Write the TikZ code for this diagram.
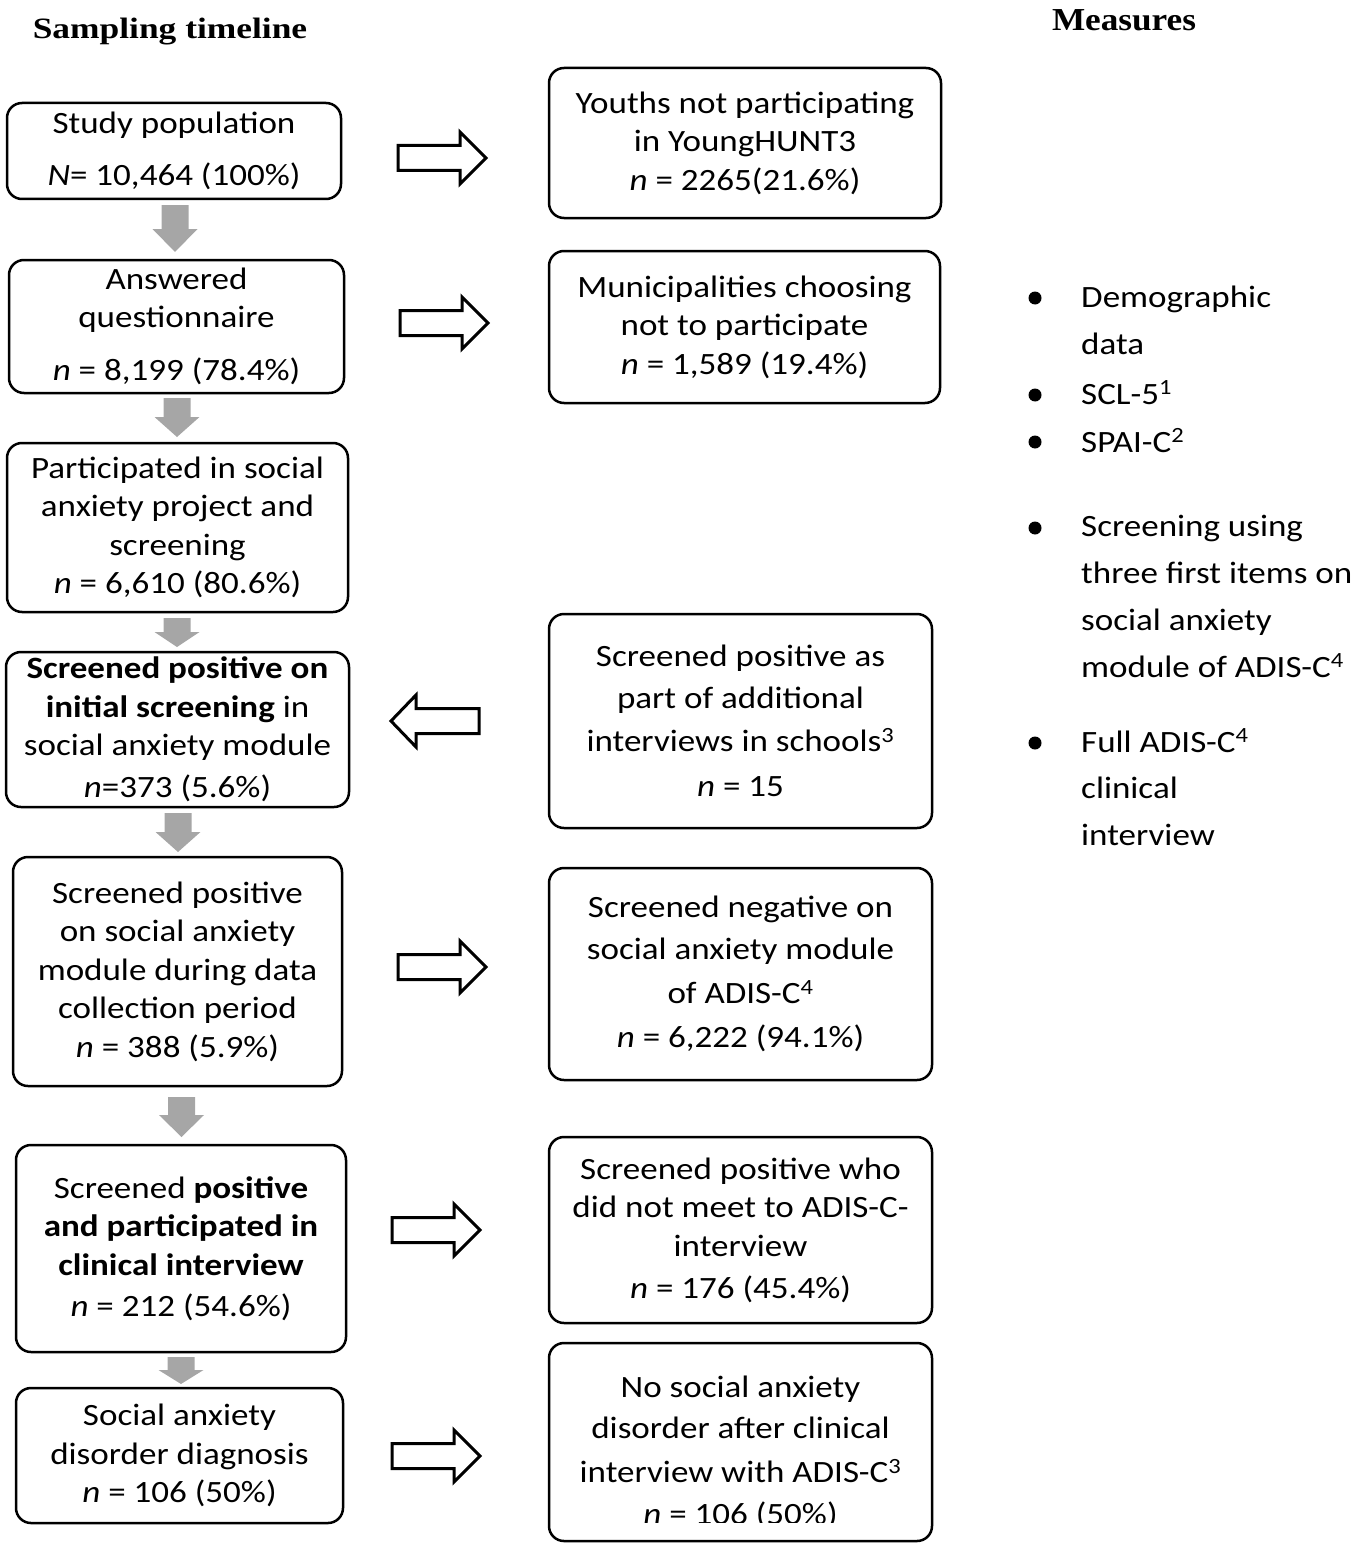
\documentclass[tikz,border=0pt]{standalone}
\usepackage{fontspec}
\setmainfont[FakeStretch=1.13]{Carlito}
\newfontfamily\headfontA[FakeStretch=1.2]{Liberation Serif}
\newfontfamily\headfontB[FakeStretch=1.1]{Liberation Serif}
\newcommand\boxfont{\fontsize{31}{38.5}\selectfont}
\definecolor{arrowgray}{HTML}{A6A6A6}
\begin{document}
\begin{tikzpicture}[x=1pt,y=-1pt,
  box/.style={draw, line width=2.5pt, rounded corners=15pt, align=center, inner sep=0pt, font=\boxfont},
  plain/.style={align=center, inner sep=0pt, font=\boxfont},
  item/.style={anchor=base west, inner sep=0pt, font=\boxfont},
  head/.style={anchor=base, inner sep=0pt},
  bullet/.style={circle, fill=black, inner sep=0pt, minimum size=13pt},
  pics/rblock/.style={code={\draw[line width=3pt, fill=white] (0,-12.5) -- (62,-12.5) -- (62,-26) -- (88,0) -- (62,26) -- (62,12.5) -- (0,12.5) -- cycle;}},
  pics/lblock/.style={code={\draw[line width=3pt, fill=white] (0,-12.5) -- (-63,-12.5) -- (-63,-26) -- (-88,0) -- (-63,26) -- (-63,12.5) -- (0,12.5) -- cycle;}},
  pics/dblock/.style n args={2}{code={\fill[arrowgray] (-13.5,0) -- (-13.5,#1) -- (-22.5,#1) -- (0,#2) -- (22.5,#1) -- (13.5,#1) -- (13.5,0) -- cycle;}}
]
\useasboundingbox (0,0) rectangle (1360,1549);

% headers
\node[head, font=\headfontA\bfseries\fontsize{29.5}{34}\selectfont] (hsamp) at (170,39) {Sampling timeline};
\node[head, font=\headfontB\bfseries\fontsize{32}{36}\selectfont] (hmeas) at (1124,31) {Measures};

% left column
\node[box, minimum width=334pt, minimum height=96pt] (l1) at (174,151)
  {Study population\\[13.5pt]\textit{N}= 10,464 (100\%)};
\node[box, minimum width=335pt, minimum height=133pt] (l2) at (176.5,326.5)
  {Answered\\questionnaire\\[14.5pt]\textit{n} = 8,199 (78.4\%)};
\node[box, minimum width=341pt, minimum height=169pt] (l3) at (177.5,527.5)
  {Participated in social\\anxiety project and\\screening\\\textit{n} = 6,610 (80.6\%)};
\node[box, minimum width=343pt, minimum height=155pt] (l4) at (177.5,729.5)
  {\textbf{Screened positive on}\\\textbf{initial screening} in\\social anxiety module\\[3.5pt]\textit{n}=373 (5.6\%)};
\node[box, minimum width=329pt, minimum height=229pt] (l5) at (177.5,971.5)
  {Screened positive\\on social anxiety\\module during data\\collection period\\\textit{n} = 388 (5.9\%)};
\node[box, minimum width=330pt, minimum height=207pt] (l6) at (181,1248.5)
  {Screened \textbf{positive}\\\textbf{and participated in}\\\textbf{clinical interview}\\[3pt]\textit{n} = 212 (54.6\%)};
\node[box, minimum width=327pt, minimum height=135pt] (l7) at (179.5,1455.5)
  {Social anxiety\\disorder diagnosis\\\textit{n} = 106 (50\%)};

% right column
\node[box, minimum width=392pt, minimum height=150pt] (r1) at (745,143)
  {Youths not participating\\in YoungHUNT3\\\textit{n} = 2265(21.6\%)};
\node[box, minimum width=391pt, minimum height=152pt] (r2) at (744.5,327)
  {Municipalities choosing\\not to participate\\\textit{n} = 1,589 (19.4\%)};
\node[box, minimum width=383pt, minimum height=214pt] (r3) at (740.5,721)
  {Screened positive as\\[3pt]part of additional\\[5pt]interviews in schools\textsuperscript{3}\\[6pt]\textit{n} = 15};
\node[box, minimum width=383pt, minimum height=212pt] (r4) at (740.5,974)
  {Screened negative on\\[3pt]social anxiety module\\[6pt]of ADIS-C\textsuperscript{4}\\[5pt]\textit{n} = 6,222 (94.1\%)};
\node[box, minimum width=383pt, minimum height=186pt] (r5) at (740.5,1230)
  {Screened positive who\\did not meet to ADIS-C-\\interview\\[3.5pt]\textit{n} = 176 (45.4\%)};
\node[box, minimum width=383pt, minimum height=198pt] (r6) at (740.5,1442) {};
\begin{scope}
  \clip (549,1343) rectangle (932,1522);
  \node[plain] (r6t) at (740.5,1452.5)
    {No social anxiety\\[3pt]disorder after clinical\\[5pt]interview with ADIS-C\textsuperscript{3}\\[4pt]\textit{n} = 106 (50\%)};
\end{scope}

% gray down arrows
\pic at (175,205) {dblock={24}{47}};
\pic at (177,398) {dblock={19}{39}};
\pic at (177,618) {dblock={14}{29}};
\pic at (178,813) {dblock={19}{39}};
\pic at (181.5,1097) {dblock={18}{40}};
\pic at (181,1357) {dblock={13}{27}};

% hollow arrows
\pic at (398,158) {rblock};
\pic at (400,323) {rblock};
\pic at (479,721) {lblock};
\pic at (398,967) {rblock};
\pic at (392,1230) {rblock};
\pic at (392,1456) {rblock};

% measures
\node[bullet] (b1) at (1035,298) {};
\node[bullet] (b2) at (1035,395) {};
\node[bullet] (b3) at (1035,442) {};
\node[bullet] (b4) at (1035,528) {};
\node[bullet] (b5) at (1035,743) {};
\node[item] (m1) at (1081,307) {Demographic};
\node[item] (m2) at (1081,354) {data};
\node[item] (m3) at (1081,404) {SCL-5\textsuperscript{1}};
\node[item] (m4) at (1081,452) {SPAI-C\textsuperscript{2}};
\node[item] (m5) at (1081,536) {Screening using};
\node[item] (m6) at (1081,583) {three first items on};
\node[item] (m7) at (1081,630) {social anxiety};
\node[item] (m8) at (1081,677) {module of ADIS-C\textsuperscript{4}};
\node[item] (m9) at (1081,752) {Full ADIS-C\textsuperscript{4}};
\node[item] (m10) at (1081,798) {clinical};
\node[item] (m11) at (1081,845) {interview};
\end{tikzpicture}
\end{document}
